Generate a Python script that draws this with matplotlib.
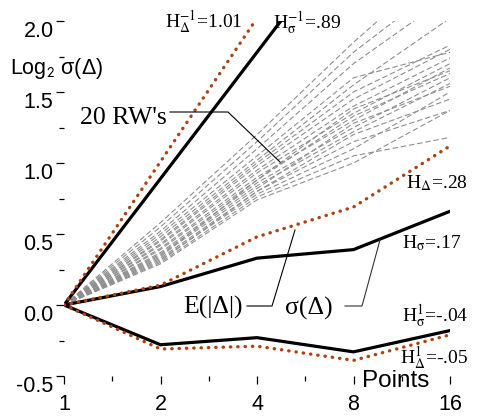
import matplotlib
matplotlib.use("Agg")
import matplotlib.pyplot as plt
import numpy as np
from matplotlib.ticker import FixedLocator, NullFormatter

# ---- data ----
points = [1, 2, 4, 8, 16]
sigma_upper = [0, 0.89, 1.78, 2.67, 3.56]      # H_sigma^-1 = .89
delta_upper = [0, 1.01, 2.02, 3.03, 4.04]      # H_Delta^-1 = 1.01
sigma_mid = [0, 0.13, 0.33, 0.39, 0.66]        # sigma(Delta), H_sigma = .17
delta_mid = [0, 0.14, 0.48, 0.69, 1.12]        # E(|Delta|), H_Delta = .28
sigma_low = [0, -0.28, -0.23, -0.33, -0.18]    # H_sigma^1 = -.04
delta_low = [0, -0.31, -0.29, -0.39, -0.21]    # H_Delta^1 = -.05

rw_1 = [0, 0.58, 1.20, 1.85, 2.45]
rw_2 = [0, 0.55, 1.15, 1.78, 2.30]
rw_3 = [0, 0.52, 1.10, 1.70, 2.18]
rw_4 = [0, 0.50, 1.05, 1.60, 1.78]
rw_5 = [0, 0.48, 1.02, 1.55, 2.02]
rw_6 = [0, 0.46, 1.00, 1.50, 1.83]
rw_7 = [0, 0.45, 0.98, 1.45, 1.80]
rw_8 = [0, 0.43, 0.95, 1.40, 1.74]
rw_9 = [0, 0.42, 0.93, 1.35, 1.70]
rw_10 = [0, 0.40, 0.90, 1.30, 1.67]
rw_11 = [0, 0.39, 0.88, 1.33, 1.63]
rw_12 = [0, 0.37, 0.86, 1.25, 1.60]
rw_13 = [0, 0.36, 0.84, 1.22, 1.56]
rw_14 = [0, 0.35, 0.82, 1.28, 1.54]
rw_15 = [0, 0.33, 0.80, 1.15, 1.37]
rw_16 = [0, 0.32, 0.78, 1.10, 1.50]
rw_17 = [0, 0.30, 0.76, 1.05, 1.18]
rw_18 = [0, 0.29, 0.74, 1.00, 1.37]
rw_19 = [0, 0.31, 0.80, 1.20, 1.45]
rw_20 = [0, 0.34, 0.88, 1.38, 1.65]
random_walks = [rw_1, rw_2, rw_3, rw_4, rw_5, rw_6, rw_7, rw_8, rw_9, rw_10,
                rw_11, rw_12, rw_13, rw_14, rw_15, rw_16, rw_17, rw_18, rw_19, rw_20]

x_major = [1, 2, 4, 8, 16]
x_major_labels = ["1", "2", "4", "8", "16"]
y_major = [-0.5, 0.0, 0.5, 1.0, 1.5, 2.0]
y_major_labels = ["-0.5", "0.0", "0.5", "1.0", "1.5", "2.0"]

# ---- style ----
plt.rcParams["mathtext.fontset"] = "stix"
SANS = ["Liberation Sans", "DejaVu Sans"]
SERIF = ["Liberation Serif", "DejaVu Serif"]
RUST = "#b0410f"

W, H = 482, 420
fig = plt.figure(figsize=(W / 100, H / 100), dpi=100)
L, R, T, B = 64, 450, 21, 376
ax = fig.add_axes([L / W, 1 - B / H, (R - L) / W, (B - T) / H])
ax.set_xscale("log", base=2)
ax.set_xlim(1, 16)
ax.set_ylim(-0.5, 2.0)
for s in ax.spines.values():
    s.set_visible(False)


def px(xp, yp):
    """pixel position in the figure -> data coords"""
    xl = (xp - L) / (R - L) * 4.0
    yv = 2.0 - (yp - T) / (B - T) * 2.5
    return 2 ** xl, yv


# random walks
for rw in random_walks:
    ax.plot(points, rw, color="#8f8f8f", lw=0.8, ls=(0, (5, 2.5)), zorder=1)

# solid curves
for ys in (sigma_upper, sigma_mid, sigma_low):
    ax.plot(points, ys, color="black", lw=2.3, solid_joinstyle="miter", zorder=3)
# dotted curves
for ys in (delta_upper, delta_mid, delta_low):
    ax.plot(points, ys, color=RUST, lw=2.4, ls=(0, (0.1, 2.1)),
            dash_capstyle="round", zorder=4)

# ticks
ax.xaxis.set_major_locator(FixedLocator(x_major))
ax.set_xticklabels(x_major_labels)
ax.xaxis.set_minor_locator(FixedLocator([2 ** 0.5, 2 ** 1.5, 2 ** 2.5, 2 ** 3.5]))
ax.xaxis.set_minor_formatter(NullFormatter())
ax.yaxis.set_major_locator(FixedLocator(y_major))
ax.set_yticklabels(y_major_labels)
ax.yaxis.set_minor_locator(FixedLocator([-0.25, 0.25, 0.75, 1.25, 1.75]))
ax.tick_params(axis="both", which="major", length=6, width=0.9, labelsize=15.5, direction="out")
ax.tick_params(axis="both", which="minor", length=3.8, width=0.9, direction="out")
ax.tick_params(axis="x", which="major", pad=7)
ax.tick_params(axis="y", which="major", pad=1.5)
for lab in ax.get_xticklabels() + ax.get_yticklabels():
    lab.set_fontfamily(SANS)
for lab in ax.get_yticklabels():
    lab.set_verticalalignment("top")


def label(xp, yp, s, size, fam, color="black"):
    x, y = px(xp, yp)
    ax.text(x, y, s, fontsize=size, family=fam, ha="left", va="baseline",
            color=color, clip_on=False, zorder=6)


label(10, 74, r"Log$_\mathsf{2}$ σ(Δ)", 15.5, SANS)
label(362, 387, "Points", 17.5, SANS)
label(165, 28, r"H$_\Delta^{-1}$=1.01", 14, SERIF)
label(273, 29, r"H$_\mathrm{σ}^{-1}$=.89", 14, SERIF)
label(80, 124, "20 RW's", 18.5, SERIF)
label(406, 188, r"H$_\Delta$=.28", 14, SERIF)
label(402, 248, r"H$_\mathrm{σ}$=.17", 14, SERIF)
label(183, 314, "E(|Δ|)", 18.5, SERIF)
label(285, 315, "σ(Δ)", 18.5, SERIF)
label(402, 322, r"H$_\mathrm{σ}^{1}$=-.04", 14, SERIF)
label(400, 364, r"H$_\Delta^{1}$=-.05", 14, SERIF)


def leader(pts, color="black"):
    xs, ys = zip(*[px(a, b) for a, b in pts])
    ax.plot(xs, ys, color=color, lw=0.8, clip_on=False, zorder=5)


leader([(170, 112), (228, 112), (280, 162)])
leader([(247, 306), (272, 306), (295, 230)])
leader([(345, 306), (362, 306), (380, 240)], color="#333333")

fig.savefig("out.png", dpi=100)
